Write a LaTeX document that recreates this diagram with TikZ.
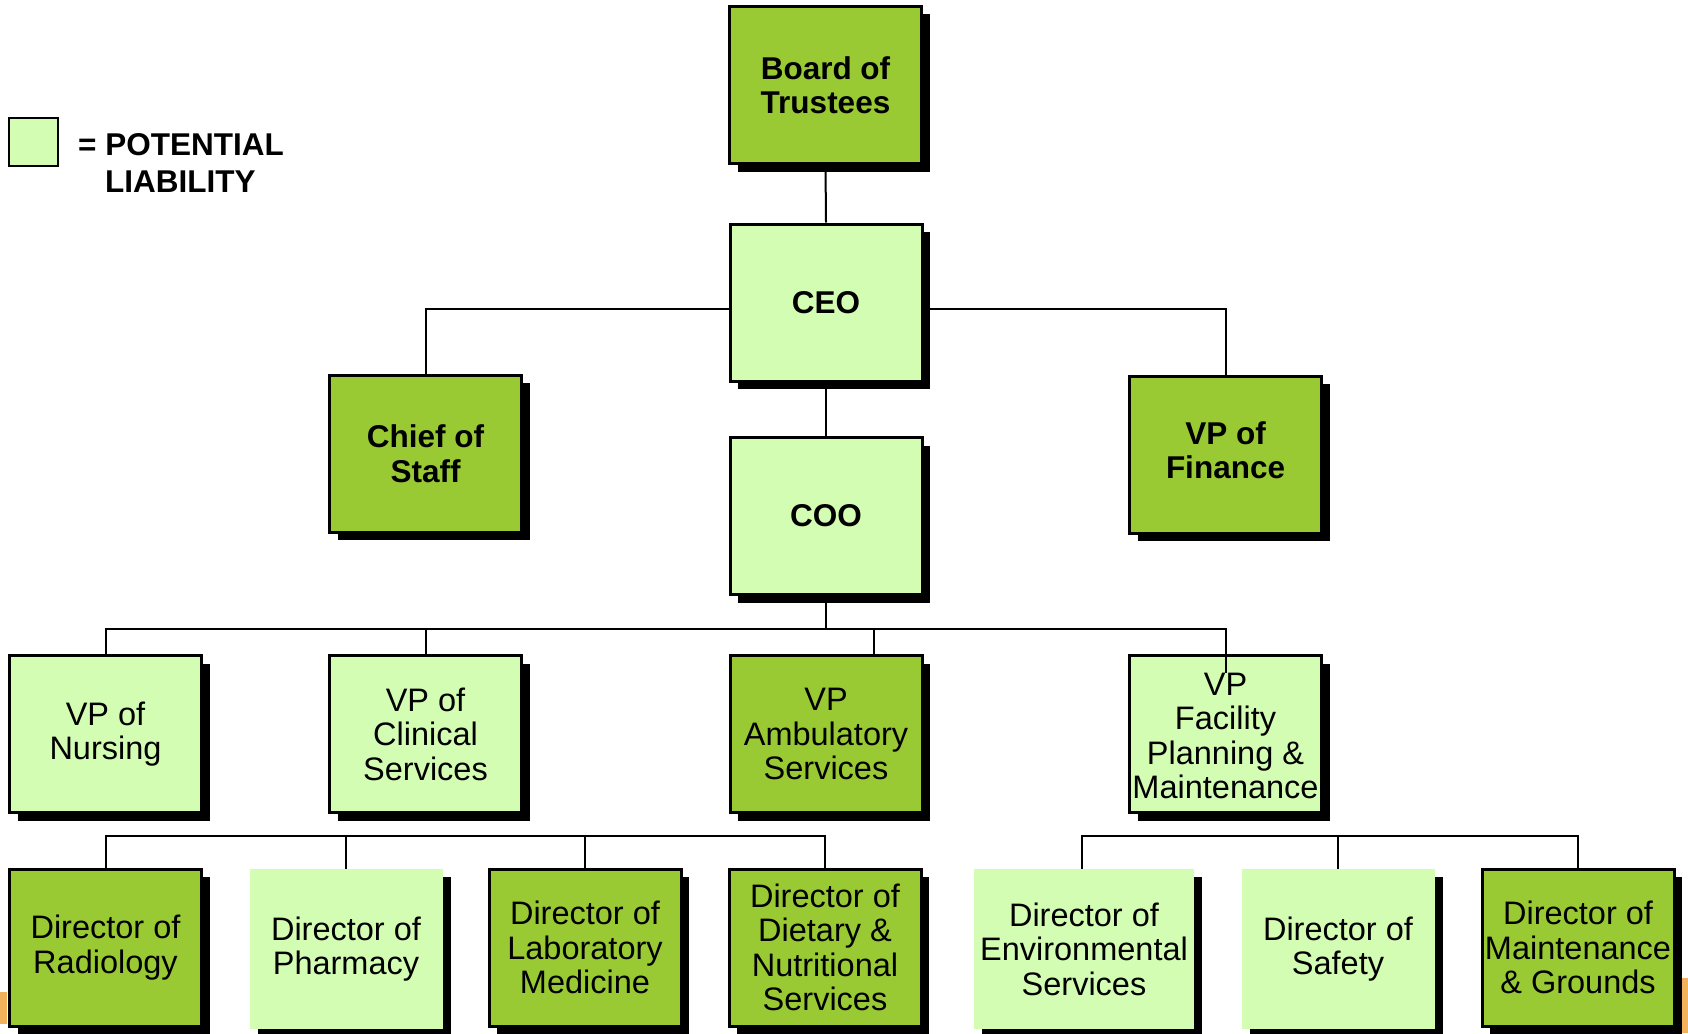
\documentclass[tikz,border=0pt]{standalone}
\usepackage{fontspec}
\setmainfont{Liberation Sans}
\usetikzlibrary{shadows}
\definecolor{darkg}{RGB}{153,202,52}
\definecolor{lightg}{RGB}{212,253,180}
\definecolor{orng}{RGB}{242,178,92}
\tikzset{
  basebox/.style={minimum width=192pt, minimum height=157pt, inner sep=0pt, align=center,
    font=\fontsize{32.5}{34.5}\selectfont,
    drop shadow={shadow xshift=8pt, shadow yshift=-8pt, fill=black, opacity=1}},
  hibox/.style={basebox, fill=darkg, draw=black, line width=3pt},
  lobox/.style={basebox, fill=lightg, draw=black, line width=3pt},
  nbbox/.style={basebox, fill=lightg, minimum width=193pt, minimum height=160pt},
  bftext/.style={font=\fontsize{31.5}{34.5}\selectfont\bfseries},
  conn/.style={line width=2pt, draw=black},
  legtext/.style={font=\fontsize{31.5}{37}\selectfont\bfseries, inner sep=0pt}
}
\begin{document}
\begin{tikzpicture}[x=1pt,y=-1pt]
\path[use as bounding box, fill=white] (0,0) rectangle (1688,1033);
\fill[orng] (0,992) rectangle (7,1024);
\fill[orng] (1677,978) rectangle (1688,1033);

% legend
\node[draw=black, fill=lightg, line width=2pt, minimum width=49pt, minimum height=48pt, inner sep=0pt] (leg) at (33.5,142) {};
\node[legtext, anchor=base west] (legA) at (78,155) {= POTENTIAL};
\node[legtext, anchor=base west] (legB) at (105,192) {LIABILITY};

% top levels
\node[hibox, bftext] (board) at (825.5,85) {Board of\\Trustees};
\node[lobox, bftext] (ceo) at (826,302.5) {CEO};
\node[hibox, bftext] (chief) at (425.5,453.5) {Chief of\\Staff};
\node[hibox, bftext] (fin) at (1225.5,454.5) {\raisebox{6pt}{\begin{tabular}{@{}c@{}}VP of\\Finance\end{tabular}}};
\node[lobox, bftext] (coo) at (826,516) {COO};

% VP row
\node[lobox] (nurs) at (105.5,734) {VP of\\Nursing};
\node[lobox] (clin) at (425.5,734) {VP of\\Clinical\\Services};
\node[hibox] (amb) at (826,734) {VP\\Ambulatory\\Services};
\node[lobox] (fac) at (1225.5,734) {\\[-8pt]VP\\Facility\\Planning \&\\Maintenance};

% director row
\node[hibox] (rad) at (105.5,947.5) {Director of\\Radiology};
\node[nbbox] (pha) at (346,949) {Director of\\Pharmacy};
\node[hibox] (lab) at (585,947.5) {Director of\\Laboratory\\Medicine};
\node[hibox] (dia) at (825,947.5) {Director of\\Dietary \&\\Nutritional\\Services};
\node[nbbox, minimum width=220pt] (env) at (1084,949) {Director of\\Environmental\\Services};
\node[nbbox] (saf) at (1338,949) {Director of\\Safety};
\node[hibox] (mai) at (1578,947.5) {Director of\\Maintenance\\\& Grounds};

% connectors
\draw[conn] (board.south) -- (ceo.north);
\draw[conn] (ceo.west |- 0,309) -| (chief.north);
\draw[conn] (ceo.east |- 0,309) -| (fin.north);
\draw[conn] (ceo.south) -- (coo.north);

\coordinate (busA) at (826,629);
\coordinate (ambtop) at (874,654);
\coordinate (facin) at (1225.5,673);
\draw[conn] (coo.south) -- (busA);
\draw[conn] (nurs.north) |- (busA);
\draw[conn] (clin.north) -- (clin.north |- busA);
\draw[conn] (ambtop |- busA) -- (ambtop);
\draw[conn] (busA) -| (facin);

\coordinate (busL) at (105.5,836);
\draw[conn] (rad.north) |- (dia.north |- busL) -- (dia.north);
\draw[conn] (pha.north) -- (pha.north |- busL);
\draw[conn] (lab.north) -- (lab.north |- busL);

\coordinate (busR) at (1082,836);
\draw[conn] (env.north -| busR) |- (mai.north |- busR) -- (mai.north);
\draw[conn] (saf.north) -- (saf.north |- busR);
\end{tikzpicture}
\end{document}
